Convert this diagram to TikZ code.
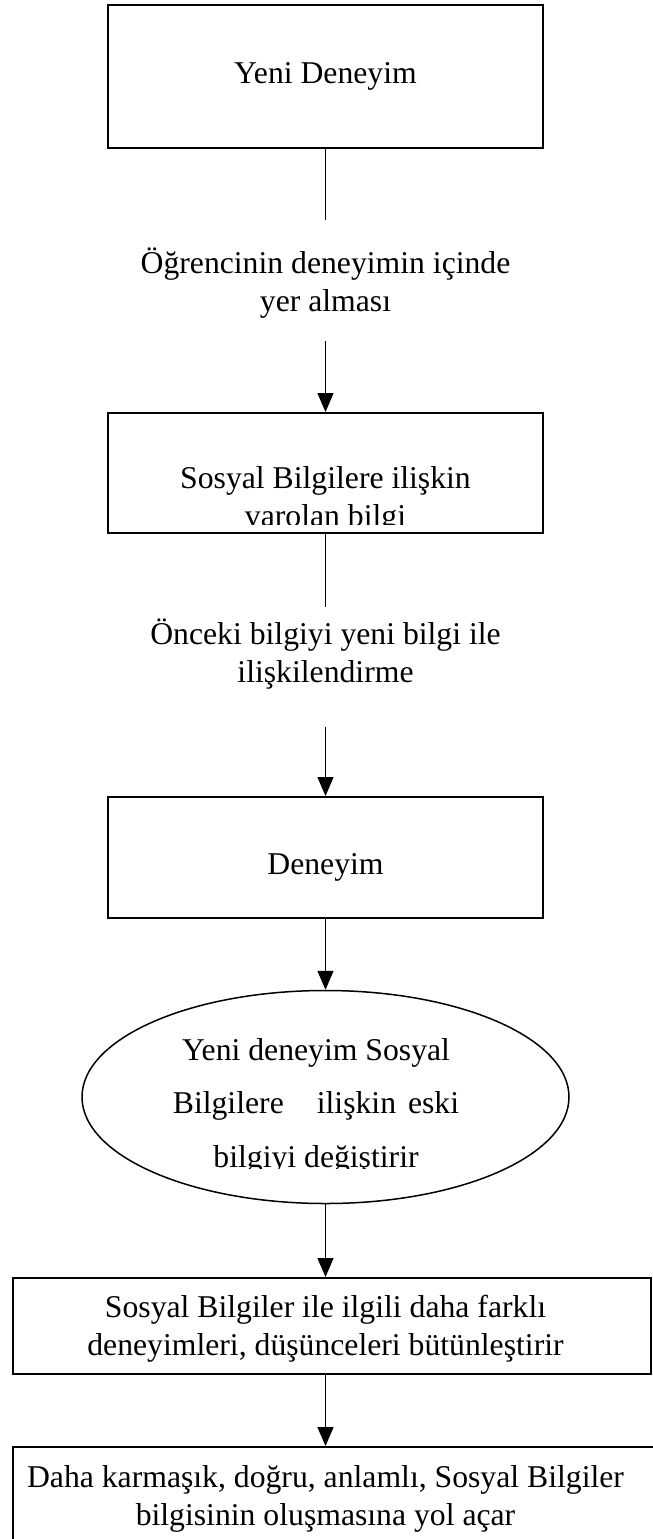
\documentclass[tikz,border=0pt]{standalone}
\usepackage{fontspec}
\setmainfont{Liberation Serif}
\usetikzlibrary{arrows.meta,shapes.geometric}
\begin{document}
\begin{tikzpicture}[x=1pt,y=-1pt,
  box/.style={draw,line width=2pt,rectangle,inner sep=0pt},
  oval/.style={draw,ellipse,line width=1.5pt,inner sep=0pt},
  conn/.style={line width=1.5pt},
  arr/.style={line width=1.5pt,-{Triangle[width=16pt,length=19pt]}},
  txt/.style={font=\fontsize{31.7}{38}\selectfont,anchor=base,inner sep=0pt}
]
\clip (0,0) rectangle (653,1539);
\fill[white] (0,0) rectangle (653,1539);

% boxes
\node[box,minimum width=435pt,minimum height=143pt] (b1) at (325.5,76.5) {};
\node[box,minimum width=435pt,minimum height=120pt] (b2) at (325.5,473) {};
\node[box,minimum width=435pt,minimum height=121pt] (b3) at (325.5,857.5) {};
\node[oval,minimum width=487pt,minimum height=213pt] (e) at (325.5,1097) {};
\node[box,minimum width=638pt,minimum height=96pt] (b5) at (332,1326) {};
\node[box,minimum width=667pt,minimum height=153pt] (b6) at (346.5,1523.5) {};

% texts
\node[txt] (t1) at (325.5,83) {Yeni Deneyim};
\node[txt] (l1a) at (325.5,273) {Öğrencinin deneyimin içinde};
\node[txt] (l1b) at (325.5,311) {yer alması};
\begin{scope}
  \clip (108,413) rectangle (543,524);
  \node[txt] (t2a) at (325.5,488) {Sosyal Bilgilere ilişkin};
  \node[txt] (t2b) at (325.5,526) {varolan bilgi};
\end{scope}
\node[txt] (l2a) at (325.5,644) {Önceki bilgiyi yeni bilgi ile};
\node[txt] (l2b) at (325.5,682) {ilişkilendirme};
\node[txt] (t3) at (325.5,874) {Deneyim};
\begin{scope}
  \clip (80,990) rectangle (575,1168);
  \node[txt] (e1) at (316,1060) {Yeni deneyim Sosyal};
  \node[txt] (e2) at (316,1113) {Bilgilere\hspace{33pt}ilişkin\hspace{12pt}eski};
  \node[txt] (e3) at (316,1167) {bilgiyi değiştirir};
\end{scope}
\node[txt] (t5a) at (325.5,1317) {Sosyal Bilgiler ile ilgili daha farklı};
\node[txt] (t5b) at (325.5,1355) {deneyimleri, düşünceleri bütünleştirir};
\node[txt] (t6a) at (325.5,1487) {Daha karmaşık, doğru, anlamlı, Sosyal Bilgiler};
\node[txt] (t6b) at (325.5,1525) {bilgisinin oluşmasına yol açar};

% connectors
\coordinate (c1) at (325.5,220);
\coordinate (c2) at (325.5,341);
\coordinate (c3) at (325.5,607);
\coordinate (c4) at (325.5,727);
\draw[conn] (b1.south) -- (c1);
\draw[arr] (c2) -- (b2.north);
\draw[conn] (b2.south) -- (c3);
\draw[arr] (c4) -- (b3.north);
\draw[arr] (b3.south) -- (e.north);
\draw[arr] (e.south) -- (e.south |- b5.north);
\draw[arr] (b5.south -| e.south) -- (b6.north -| e.south);
\end{tikzpicture}
\end{document}
